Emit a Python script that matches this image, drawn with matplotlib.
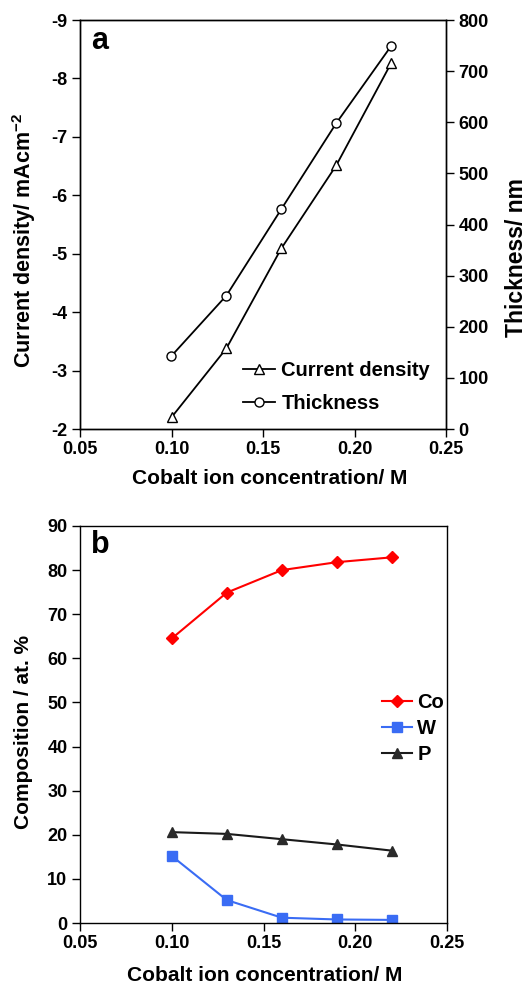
import matplotlib
matplotlib.use("Agg")
import matplotlib.pyplot as plt
from matplotlib.ticker import FixedLocator

plt.rcParams['font.family'] = ['Liberation Sans', 'DejaVu Sans']
plt.rcParams['font.weight'] = 'bold'
plt.rcParams['mathtext.fontset'] = 'custom'
plt.rcParams['mathtext.bf'] = 'Liberation Sans:bold'
plt.rcParams['mathtext.rm'] = 'Liberation Sans:bold'
plt.rcParams['mathtext.default'] = 'bf'

# Cobalt ion concentration (M)
conc = [0.10, 0.13, 0.16, 0.19, 0.22]

# Panel a
current_density = [-2.2, -3.38, -5.09, -6.51, -8.26]   # mA cm^-2
thickness = [143, 261, 430, 598, 749]                   # nm

# Panel b: composition (at. %)
co = [64.5, 74.9, 80.0, 81.8, 82.9]
w = [15.2, 5.2, 1.2, 0.8, 0.7]
p = [20.6, 20.2, 19.0, 17.8, 16.4]

x_ticks = [0.05, 0.10, 0.15, 0.20, 0.25]
x_tick_labels = ['0.05', '0.10', '0.15', '0.20', '0.25']
cd_ticks = [-2, -3, -4, -5, -6, -7, -8, -9]
th_ticks = [0, 100, 200, 300, 400, 500, 600, 700, 800]
comp_ticks = [0, 10, 20, 30, 40, 50, 60, 70, 80, 90]

W, H = 526, 985
fig = plt.figure(figsize=(W / 100, H / 100), dpi=100)

TICK_FS = 13
LABEL_FS = 15
LEG_FS = 14.5


def style_axis(ax):
    for s in ax.spines.values():
        s.set_linewidth(1.0)
    ax.tick_params(direction='out', length=6, width=1.0, labelsize=TICK_FS, pad=3)
    for lab in ax.get_xticklabels() + ax.get_yticklabels():
        lab.set_fontweight('bold')


# ---------------- Panel a ----------------
ax1 = fig.add_axes([80 / W, 1 - 429 / H, 366 / W, 409 / H])
l1, = ax1.plot(conc, current_density, color='black', lw=1.3, marker='^', ms=7,
               mfc='white', mec='black', mew=1.0, label='Current density')
ax1.set_xlim(0.05, 0.25)
ax1.set_ylim(-2, -9)
ax1.xaxis.set_major_locator(FixedLocator(x_ticks))
ax1.set_xticklabels(x_tick_labels)
ax1.yaxis.set_major_locator(FixedLocator(cd_ticks))
ax1.set_yticklabels([str(v) for v in cd_ticks])
ax1.set_ylabel('Current density/ mAcm$^{\\mathbf{-2}}$', fontsize=15.5,
               fontweight='bold', va='center')
ax1.yaxis.set_label_coords(-0.153, 0.462)
ax1.set_xlabel('Cobalt ion concentration/ M', fontsize=LABEL_FS, fontweight='bold',
               va='center')
ax1.xaxis.set_label_coords(0.519, -0.12)
style_axis(ax1)

ax2 = ax1.twinx()
l2, = ax2.plot(conc, thickness, color='black', lw=1.3, marker='o', ms=6.5,
               mfc='white', mec='black', mew=1.0, label='Thickness')
ax2.set_ylim(0, 800)
ax2.yaxis.set_major_locator(FixedLocator(th_ticks))
ax2.set_yticklabels([str(v) for v in th_ticks])
ax2.set_ylabel('Thickness/ nm', fontsize=16.5, fontweight='bold', va='center',
               rotation=90)
ax2.yaxis.set_label_coords(1.192, 0.42)
style_axis(ax2)

ax1.text(0.03, 0.985, 'a', transform=ax1.transAxes, fontsize=22, fontweight='bold',
         va='top', ha='left')

leg1 = ax2.legend(handles=[l1, l2], loc='upper left',
                  bbox_to_anchor=(163 / 366, (429 - 361) / 409),
                  frameon=False, fontsize=LEG_FS, handlelength=1.6,
                  handletextpad=0.3, labelspacing=0.68, borderpad=0,
                  borderaxespad=0)
for t in leg1.get_texts():
    t.set_fontweight('bold')

# ---------------- Panel b ----------------
ax3 = fig.add_axes([80 / W, 1 - 923 / H, 367 / W, 397 / H])
h_co, = ax3.plot(conc, co, color='#ff0000', lw=1.5, marker='D', ms=6.5,
                 mfc='#ff0000', mec='#ff0000', label='Co')
h_w, = ax3.plot(conc, w, color='#3a6cf4', lw=1.5, marker='s', ms=7,
                mfc='#3a6cf4', mec='#3a6cf4', label='W')
h_p, = ax3.plot(conc, p, color='#1a1a1a', lw=1.5, marker='^', ms=7.5,
                mfc='#2a2a2a', mec='#2a2a2a', label='P')
ax3.set_xlim(0.05, 0.25)
ax3.set_ylim(0, 90)
ax3.xaxis.set_major_locator(FixedLocator(x_ticks))
ax3.set_xticklabels(x_tick_labels)
ax3.yaxis.set_major_locator(FixedLocator(comp_ticks))
ax3.set_yticklabels([str(v) for v in comp_ticks])
ax3.set_ylabel('Composition / at. %', fontsize=LABEL_FS, fontweight='bold', va='center')
ax3.yaxis.set_label_coords(-0.154, 0.481)
ax3.set_xlabel('Cobalt ion concentration/ M', fontsize=LABEL_FS, fontweight='bold',
               va='center')
ax3.xaxis.set_label_coords(0.504, -0.131)
ax3.tick_params(axis='y', which='both', right=False)
style_axis(ax3)

ax3.text(0.03, 0.99, 'b', transform=ax3.transAxes, fontsize=22, fontweight='bold',
         va='top', ha='left')

leg3 = ax3.legend(handles=[h_co, h_w, h_p], loc='upper left',
                  bbox_to_anchor=((382 - 80) / 367, (923 - 693) / 397),
                  frameon=False, fontsize=LEG_FS, handlelength=1.5,
                  handletextpad=0.25, labelspacing=0.35, borderpad=0,
                  borderaxespad=0)
for t in leg3.get_texts():
    t.set_fontweight('bold')

fig.savefig('out.png', dpi=100)
